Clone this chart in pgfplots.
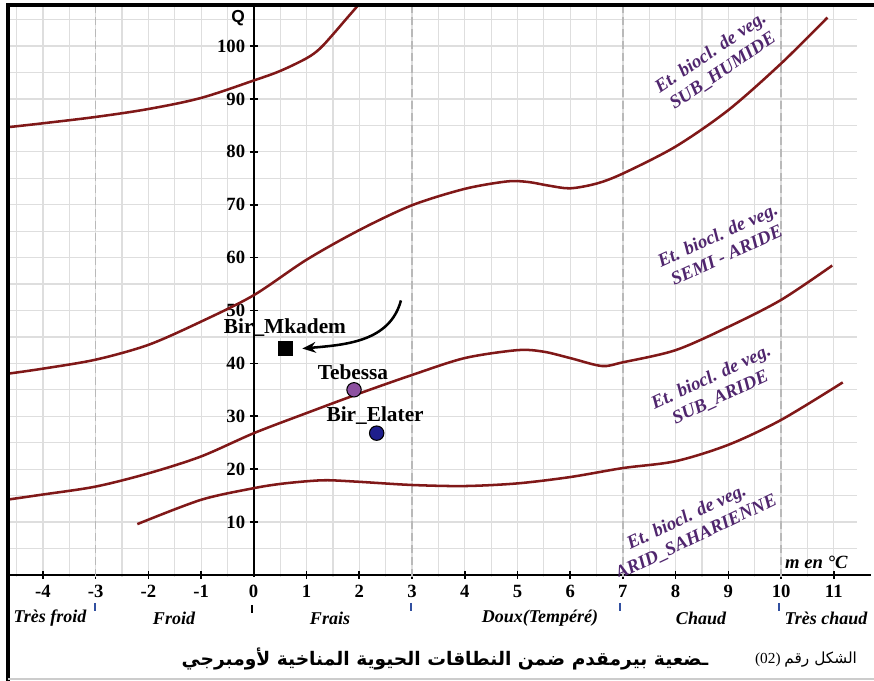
\documentclass[border=0pt]{standalone}
\usepackage{fontspec}
\setmainfont{Liberation Serif}
\newfontfamily\arabicfont[Script=Arabic]{DejaVu Sans}
\newfontfamily\qfont{Liberation Sans}
\usepackage{pgfplots}
\pgfplotsset{compat=1.18}
\usetikzlibrary{arrows.meta}
\TeXXeTstate=1
\definecolor{curve}{RGB}{128,24,24}
\definecolor{veg}{RGB}{80,38,110}
\definecolor{gridc}{RGB}{222,222,222}
\definecolor{dashc}{RGB}{185,185,185}
\definecolor{tebessa}{RGB}{140,80,160}
\definecolor{elater}{RGB}{30,30,140}
\definecolor{tickblue}{RGB}{50,80,160}

\begin{document}
\begin{tikzpicture}
\begin{axis}[
  at={(0,0)}, anchor=south west,
  scale only axis, width=635.25pt, height=429pt,
  xmin=-4.625, xmax=11.44, ymin=-0.4, ymax=107.77,
  axis lines=middle,
  axis line style={-, line width=2pt, black},
  every inner x axis line/.append style={-},
  every inner y axis line/.append style={-},
  xtick={-4,...,11},
  ytick={10,20,...,100},
  minor xtick={-4.5,-4,...,11},
  minor ytick={5,10,...,105},
  grid=minor,
  minor grid style={gridc, line width=0.9pt},
  major tick length=6pt, minor tick length=0pt,
  tick align=center,
  tick style={black, line width=1.2pt},
  xticklabel style={font=\bfseries\fontsize{14}{16}\selectfont, yshift=-1pt},
  yticklabel style={font=\bfseries\fontsize{14}{16}\selectfont},
  /pgf/number format/assume math mode=true,
]
% dashed zone limits
\draw[dashc, dash pattern=on 6pt off 3pt, line width=1pt] (axis cs:-3,-0.4) -- (axis cs:-3,107.77);
\draw[dashc, dash pattern=on 6pt off 3pt, line width=1pt] (axis cs:3,-0.4) -- (axis cs:3,107.77);
\draw[dashc, dash pattern=on 6pt off 3pt, line width=1pt] (axis cs:7,-0.4) -- (axis cs:7,107.77);
\draw[dashc, dash pattern=on 6pt off 3pt, line width=1pt] (axis cs:10,-0.4) -- (axis cs:10,107.77);

% curve A
\addplot[curve, line width=1.9pt, smooth, tension=0.55] coordinates {
(-4.625,84.7) (-4,85.4) (-3,86.6) (-2,88.1) (-1,90.2) (0,93.5) (0.5,95.3) (1,97.7) (1.25,99.5) (1.5,102.2) (1.75,105.1) (2.02,108.2)};
% curve B
\addplot[curve, line width=1.9pt, smooth, tension=0.5] coordinates {
(-4.625,38.1) (-4,39.0) (-3,40.7) (-2,43.5) (-1,47.9) (0,52.9) (1,59.6) (2,65.2) (3,69.9) (4,73.0) (4.8,74.4) (5.2,74.3) (5.6,73.6) (6,73.1) (6.5,74.0) (7,75.9) (8,81.0) (9,87.9) (10,96.7) (10.88,105.4)};
% curve C
\addplot[curve, line width=1.9pt, smooth, tension=0.5] coordinates {
(-4.625,14.3) (-4,15.2) (-3,16.7) (-2,19.2) (-1,22.4) (0,26.8) (1,30.6) (2,34.3) (3,37.8) (4,41.0) (5,42.5) (5.5,42.2) (6,41.0) (6.6,39.5) (7,40.2) (8,42.5) (9,46.9) (10,52.0) (10.97,58.5)};
% curve D
\addplot[curve, line width=1.9pt, smooth, tension=0.5] coordinates {
(-2.21,9.6) (-1,14.2) (0,16.4) (0.5,17.2) (1,17.7) (1.4,17.9) (2,17.6) (3,17.0) (4,16.8) (5,17.3) (6,18.5) (7,20.2) (8,21.5) (9,24.6) (10,29.3) (11.17,36.4)};

% stations
\addplot[only marks, mark=square*, mark size=5.25pt, black] coordinates {(0.6,42.9)};
\addplot[only marks, mark=*, mark size=5.4pt, draw=black, fill=tebessa, line width=0.8pt] coordinates {(1.9,35.0)};
\addplot[only marks, mark=*, mark size=5.4pt, draw=black, fill=elater, line width=0.8pt] coordinates {(2.33,26.8)};

\node[font=\bfseries\fontsize{16}{18}\selectfont] at (axis cs:0.59,46.7) {Bir\_Mkadem};
\node[font=\bfseries\fontsize{16}{18}\selectfont] at (axis cs:1.88,38.4) {Tebessa};
\node[font=\bfseries\fontsize{16}{18}\selectfont] at (axis cs:2.30,30.2) {Bir\_Elater};

\draw[-{Stealth[length=10pt,width=8pt]}, line width=1.9pt] (axis cs:2.79,51.9) to[out=-105,in=5] (axis cs:0.92,42.8);

% Q label
\node[font=\qfont\bfseries\fontsize{13}{15}\selectfont] at (axis cs:-0.3,105.2) {Q};

% zone labels
\begin{scope}[every node/.style={align=center, text=veg, font=\bfseries\itshape\fontsize{14}{16.5}\selectfont}]
\node[rotate=34] at (axis cs:8.78,97.0) {Et. biocl. de veg.\\SUB\_HUMIDE};
\node[rotate=24.5] at (axis cs:8.88,62.4) {Et. biocl. de veg.\\SEMI - ARIDE};
\node[rotate=25] at (axis cs:8.76,35.4) {Et. biocl. de veg.\\SUB\_ARIDE};
\node[rotate=25.5] at (axis cs:8.3,9.0) {Et. biocl. de veg.\\ARID\_SAHARIENNE};
\end{scope}
\node[font=\bfseries\itshape\fontsize{14}{16}\selectfont] at (axis cs:10.67,2.4) {m en °C};
\end{axis}

\begin{scope}[shift={(-7.5pt,432.75pt)}, x=0.75pt, y=-0.75pt]
 \draw[line width=2.4pt] (8,681) -- (8,5) -- (874,5);
 \draw[gray!40, line width=0.8pt] (8,679) -- (874,679);
 \draw[line width=2pt] (856,575) -- (871,575);
 \node[font=\bfseries\fontsize{14}{16}\selectfont] at (253.5,591) {0};
 \begin{scope}[every node/.style={font=\bfseries\itshape\fontsize{13.5}{15}\selectfont}]
 \node at (50,618) {Très froid};
 \node at (174,618) {Froid};
 \node at (330,618) {Frais};
 \node at (540,618) {Doux(Tempéré)};
 \node at (701,618) {Chaud};
 \node at (826,618) {Très chaud};
 \end{scope}
 \draw[tickblue, line width=1pt] (95,603) -- (95,611);
 \draw[black, line width=1pt] (252,605) -- (252,613);
 \draw[tickblue, line width=1pt] (411,603) -- (411,611);
 \draw[tickblue, line width=1pt] (620,603) -- (620,611);
 \draw[tickblue, line width=1pt] (779,603) -- (779,611);
 \node[font=\arabicfont\bfseries\fontsize{14}{16}\selectfont] at (445,659) {\beginR ـضعية بيرمقدم ضمن النطاقات الحيوية المناخية لأومبرجي\endR};
 \node[font=\fontsize{11.5}{13}\selectfont] at (806,660) {\beginR{\arabicfont الشكل رقم} \beginL(02)\endL\endR};
 \pgfresetboundingbox
 \path[use as bounding box] (0,0) rectangle (874,681);
\end{scope}
\end{tikzpicture}
\end{document}
